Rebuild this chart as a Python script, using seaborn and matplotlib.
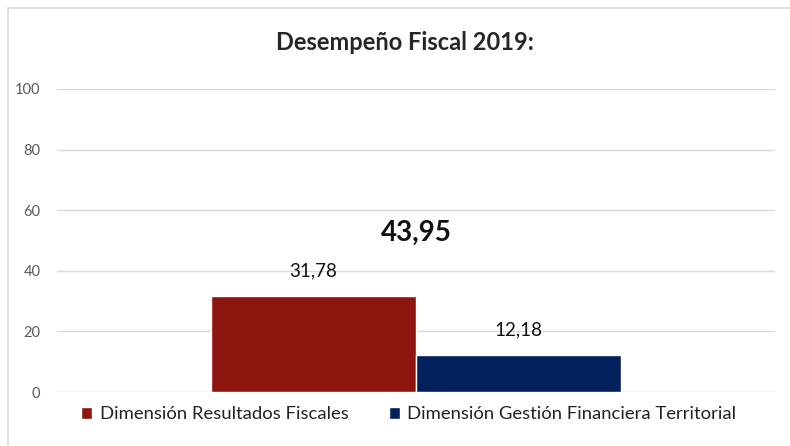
import pandas as pd
import matplotlib.pyplot as plt
import seaborn as sns
from matplotlib.patches import Rectangle

# Data
dimensiones = ['Dimensión Resultados Fiscales', 'Dimensión Gestión Financiera Territorial']
valores = [31.78, 12.18]
total = 43.95
colores = ['#8e140e', '#02215c']
titulo = 'Desempeño Fiscal 2019:'

df = pd.DataFrame({'grupo': ['2019'] * len(valores), 'dimension': dimensiones, 'valor': valores})

sns.set_style('white')
plt.rcParams['font.family'] = ['Lato', 'DejaVu Sans']

fig = plt.figure(figsize=(7.9, 4.46), dpi=100)
ax = fig.add_axes([57 / 790, 1 - 392 / 446, 718 / 790, 303 / 446])

sns.barplot(data=df, x='grupo', y='valor', hue='dimension', palette=colores,
            width=0.8, saturation=1, ax=ax, legend=True)

ax.set_xlim(-0.7, 0.7)
ax.set_ylim(0, 100)
ax.set_yticks(range(0, 101, 20))
ax.set_xticks([])
ax.set_xlabel('')
ax.set_ylabel('')
ax.grid(axis='y', color='#d9d9d9', linewidth=1)
ax.set_axisbelow(True)
sns.despine(ax=ax, left=True, bottom=True)
ax.tick_params(axis='y', length=0, pad=12, labelsize=10.5, labelcolor='#595959')

for cont in ax.containers:
    ax.bar_label(cont, labels=[f'{v:.2f}'.replace('.', ',') for v in cont.datavalues],
                 padding=12, fontsize=13.5, color='#111111')

ax.text(0, 52.5, f'{total:.2f}'.replace('.', ','), ha='center', va='center',
        fontsize=20, fontweight='bold', color='#111111')

fig.text(0.513, 0.905, titulo, ha='center', va='center', fontsize=17, fontweight='bold')

leg = ax.legend(loc='center', bbox_to_anchor=(0.49, -0.074), ncol=2, frameon=False,
                fontsize=13.3, handlelength=0.6, handleheight=0.6, handletextpad=0.4,
                columnspacing=2.2)
for t in leg.get_texts():
    t.set_color('#222222')

# outer chart frame
fig.patches.append(Rectangle((8 / 790, -0.01), 1, 1 - 8 / 446 + 0.01, transform=fig.transFigure,
                             fill=False, edgecolor='#d9d9d9', linewidth=1.2))

fig.savefig('out.png', dpi=100)
